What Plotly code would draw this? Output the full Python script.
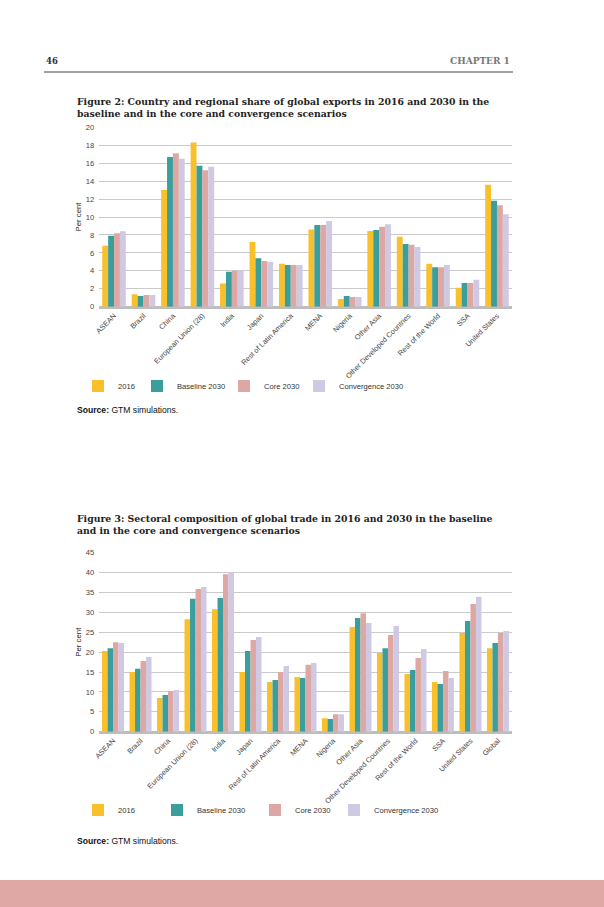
import plotly.graph_objects as go

# ---------------- data ----------------
categories_fig2 = ["ASEAN", "Brazil", "China", "European Union (28)", "India", "Japan",
                   "Rest of Latin America", "MENA", "Nigeria", "Other Asia",
                   "Other Developed Countries", "Rest of the World", "SSA", "United States"]
fig2_2016 = [6.8, 1.4, 13.0, 18.3, 2.6, 7.2, 4.8, 8.6, 0.85, 8.45, 7.8, 4.8, 2.1, 13.6]
fig2_baseline = [7.9, 1.2, 16.7, 15.7, 3.9, 5.4, 4.65, 9.1, 1.2, 8.55, 7.0, 4.4, 2.65, 11.8]
fig2_core = [8.2, 1.3, 17.1, 15.2, 4.0, 5.1, 4.65, 9.1, 1.08, 8.9, 6.9, 4.4, 2.65, 11.3]
fig2_convergence = [8.4, 1.3, 16.5, 15.6, 4.1, 5.0, 4.65, 9.55, 1.08, 9.2, 6.65, 4.65, 3.0, 10.3]

categories_fig3 = ["ASEAN", "Brazil", "China", "European Union (28)", "India", "Japan",
                   "Rest of Latin America", "MENA", "Nigeria", "Other Asia",
                   "Other Developed Countries", "Rest of the World", "SSA", "United States", "Global"]
fig3_2016 = [20.3, 15.0, 8.5, 28.3, 30.8, 15.0, 12.5, 13.75, 3.4, 26.3, 19.8, 14.5, 12.5, 24.8, 21.0]
fig3_baseline = [21.0, 15.8, 9.2, 33.4, 33.6, 20.3, 13.0, 13.5, 3.2, 28.6, 21.0, 15.5, 12.0, 27.8, 22.3]
fig3_core = [22.5, 17.8, 10.2, 35.9, 39.6, 23.05, 15.0, 16.8, 4.4, 29.8, 24.3, 18.5, 15.25, 32.1, 24.8]
fig3_convergence = [22.3, 18.8, 10.5, 36.4, 40.1, 23.8, 16.5, 17.3, 4.4, 27.3, 26.6, 20.8, 13.5, 33.9, 25.3]

series_names = ["2016", "Baseline 2030", "Core 2030", "Convergence 2030"]
series_colors = ["#F9C02C", "#3A9E9D", "#DDA8A4", "#D0C9E3"]

W, H = 604, 907


def X(px):
    return px / W


def Y(py):
    return 1 - py / H


SANS = "Liberation Sans, Arial, sans-serif"
SERIF = "DejaVu Serif, serif"

fig = go.Figure()

# each series gets its own legend box so the entries sit where the reference puts them
fig2_legend_x = [78, 137, 224, 299]
fig3_legend_x = [78, 157, 255, 334]

legend_common = dict(orientation="h", xanchor="left", yanchor="middle",
                     font=dict(family=SANS, size=7.6, color="#333333"),
                     bgcolor="rgba(0,0,0,0)", borderwidth=0)

legend_layout = {}
for i, (name, vals, col) in enumerate(zip(series_names,
                                          [fig2_2016, fig2_baseline, fig2_core, fig2_convergence],
                                          series_colors)):
    key = "legend" if i == 0 else f"legend{i + 1}"
    fig.add_trace(go.Bar(x=categories_fig2, y=vals, name=name, marker_color=col,
                         marker_line_width=0, xaxis="x", yaxis="y", legend=key))
    legend_layout[key] = dict(x=X(fig2_legend_x[i]), y=Y(386), **legend_common)

for i, (name, vals, col) in enumerate(zip(series_names,
                                          [fig3_2016, fig3_baseline, fig3_core, fig3_convergence],
                                          series_colors)):
    key = f"legend{i + 5}"
    fig.add_trace(go.Bar(x=categories_fig3, y=vals, name=name, marker_color=col,
                         marker_line_width=0, xaxis="x2", yaxis="y2", legend=key))
    legend_layout[key] = dict(x=X(fig3_legend_x[i]), y=Y(810), **legend_common)

xtickfont = dict(family=SANS, size=7.3, color="#444444")
ytickfont = dict(family=SANS, size=7.6, color="#444444")
xcommon = dict(tickangle=-45, tickfont=xtickfont, showgrid=False, showline=True,
               linecolor="#BDBDBD", linewidth=2, ticks="", automargin=False, fixedrange=True)
ycommon = dict(tickfont=ytickfont, showgrid=True, gridcolor="#CACACA", gridwidth=1.3,
               zeroline=True, zerolinecolor="#BDBDBD", zerolinewidth=2, ticks="",
               automargin=False, ticklabelstandoff=4, fixedrange=True,
               title=dict(text="Per cent", font=dict(family=SANS, size=7.8, color="#222222"),
                          standoff=3))

fig.update_layout(
    width=W, height=H,
    margin=dict(l=0, r=0, t=0, b=0),
    paper_bgcolor="white", plot_bgcolor="white",
    barmode="group", bargap=0.2, bargroupgap=0,
    xaxis=dict(domain=[X(99.3), X(511.7)], anchor="y", **xcommon),
    yaxis=dict(domain=[Y(306.7), Y(127.3)], anchor="x", range=[0, 20], dtick=2, **ycommon),
    xaxis2=dict(domain=[X(99.3), X(511.7)], anchor="y2", **xcommon),
    yaxis2=dict(domain=[Y(731.7), Y(552.7)], anchor="x2", range=[0, 45], dtick=5, **ycommon),
    showlegend=True,
    **legend_layout,
)

title_font = dict(family=SERIF, size=9.3, color="#222222")
source_font = dict(family=SANS, size=8.6, color="#111111")
annotations = [
    dict(text="<b>46</b>", x=X(44), y=Y(61), xanchor="left", yanchor="middle",
         font=dict(family=SERIF, size=8.5, color="#333333")),
    dict(text="<b>CHAPTER 1</b>", x=X(512), y=Y(61),
         xanchor="right", yanchor="middle",
         font=dict(family=SERIF, size=9, color="#777777")),
    dict(text="<b>Figure 2: Country and regional share of global exports in 2016 and 2030 in the<br>"
              "baseline and in the core and convergence scenarios</b>",
         x=X(75), y=Y(108), xanchor="left", yanchor="middle", align="left", font=title_font),
    dict(text="<b>Source:</b> GTM simulations.", x=X(75), y=Y(410), xanchor="left",
         yanchor="middle", font=source_font),
    dict(text="<b>Figure 3: Sectoral composition of global trade in 2016 and 2030 in the baseline<br>"
              "and in the core and convergence scenarios</b>",
         x=X(75), y=Y(524), xanchor="left", yanchor="middle", align="left", font=title_font),
    dict(text="<b>Source:</b> GTM simulations.", x=X(75), y=Y(841), xanchor="left",
         yanchor="middle", font=source_font),
]
for a in annotations:
    a.update(xref="paper", yref="paper", showarrow=False)
fig.update_layout(annotations=annotations)

fig.update_layout(shapes=[
    dict(type="line", xref="paper", yref="paper", x0=X(44), x1=X(513), y0=Y(72), y1=Y(72),
         line=dict(color="#444444", width=1)),
    dict(type="rect", xref="paper", yref="paper", x0=0, x1=1, y0=0, y1=Y(880),
         fillcolor="#DFA8A5", line=dict(width=0), layer="below"),
])

fig.write_html("out.html", config={"displayModeBar": False},
               post_script="document.body.style.margin='0';"
                           "document.body.style.padding='0';"
                           "document.body.style.overflow='hidden';")
